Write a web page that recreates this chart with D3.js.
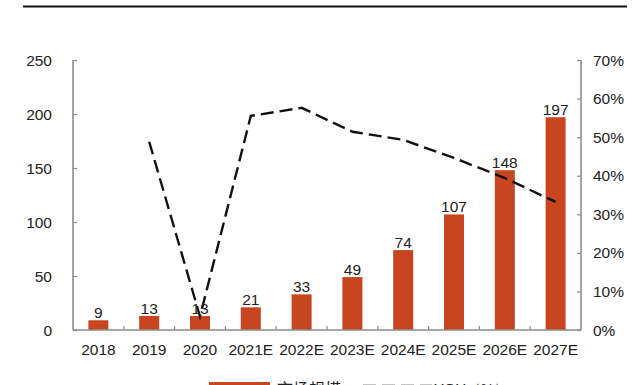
<!DOCTYPE html>
<html><head><meta charset="utf-8">
<script src="https://cdn.jsdelivr.net/npm/d3@7"></script>
<style>body{margin:0;background:#fff}svg{display:block}</style>
</head><body>
<svg id="c" width="640" height="385"></svg>
<script>
const categories = ["2018","2019","2020","2021E","2022E","2023E","2024E","2025E","2026E","2027E"];
const marketSize = [9,13,13,21,33,49,74,107,148,197];
const yoy = [null,48.8,3.5,55.5,57.6,51.4,49.3,44.6,39.4,33.2];
const leftTicks = [0,50,100,150,200,250];
const rightTicks = [0,10,20,30,40,50,60,70];
const legendLabels = ["市场规模","YOY（%）"];

const svg = d3.select("#c");
const font = "'Liberation Sans', Arial, sans-serif";
const fs = 15.5;
const m = {l:73, r:581, t:60, b:330};
const x = d3.scaleBand().domain(categories).range([m.l, m.r]).paddingInner(0).paddingOuter(0);
const yL = d3.scaleLinear().domain([0,250]).range([m.b, m.t]);
const yR = d3.scaleLinear().domain([0,70]).range([m.b, m.t]);
const barColor = "#C8461F";
const axisColor = "#8c8c8c";

// top rule
svg.append("line").attr("x1",23).attr("x2",627).attr("y1",6.5).attr("y2",6.5)
  .attr("stroke","#111").attr("stroke-width",2);

// left axis
const gL = svg.append("g").attr("transform",`translate(${m.l},0)`)
  .call(d3.axisRight(yL).tickValues(leftTicks).tickSize(4).tickFormat(""));
gL.select(".domain").remove();
gL.selectAll("line").attr("stroke",axisColor).attr("stroke-width",1.2);
svg.append("line").attr("x1",m.l).attr("x2",m.l).attr("y1",m.t).attr("y2",m.b).attr("stroke",axisColor).attr("stroke-width",1.6);
svg.append("g").selectAll("text").data(leftTicks).join("text")
  .attr("x",52).attr("y",d=>yL(d)+5.5).attr("text-anchor","end")
  .attr("font-family",font).attr("font-size",fs).attr("fill","#222").text(d=>d);

// right axis
const gR = svg.append("g").attr("transform",`translate(${m.r},0)`)
  .call(d3.axisLeft(yR).tickValues(rightTicks).tickSize(4).tickFormat(""));
gR.select(".domain").remove();
gR.selectAll("line").attr("stroke",axisColor).attr("stroke-width",1.2);
svg.append("line").attr("x1",m.r).attr("x2",m.r).attr("y1",m.t).attr("y2",m.b).attr("stroke",axisColor).attr("stroke-width",1.6);
svg.append("g").selectAll("text").data(rightTicks).join("text")
  .attr("x",593).attr("y",d=>yR(d)+5.5).attr("text-anchor","start")
  .attr("font-family",font).attr("font-size",fs).attr("fill","#222").text(d=>d+"%");

// bars
const bw = 20;
svg.append("g").selectAll("rect").data(marketSize).join("rect")
  .attr("x",(d,i)=>x(categories[i])+x.bandwidth()/2-bw/2)
  .attr("width",bw)
  .attr("y",d=>yL(d)).attr("height",d=>m.b-yL(d))
  .attr("fill",barColor);

// x axis
svg.append("line").attr("x1",m.l).attr("x2",m.r).attr("y1",m.b).attr("y2",m.b).attr("stroke",axisColor).attr("stroke-width",1.6);
svg.append("g").selectAll("line").data(categories.slice(1)).join("line")
  .attr("x1",d=>x(d)).attr("x2",d=>x(d)).attr("y1",m.b).attr("y2",m.b-4)
  .attr("stroke",axisColor).attr("stroke-width",1.2);
svg.append("g").selectAll("text").data(categories).join("text")
  .attr("x",d=>x(d)+x.bandwidth()/2).attr("y",355).attr("text-anchor","middle")
  .attr("font-family",font).attr("font-size",fs).attr("fill","#222").text(d=>d);

// line
const pts = yoy.map((v,i)=>({c:categories[i],v})).filter(p=>p.v!==null);
const line = d3.line().x(p=>x(p.c)+x.bandwidth()/2).y(p=>yR(p.v));
svg.append("path").datum(pts).attr("d",line).attr("fill","none")
  .attr("stroke","#111").attr("stroke-width",2.4).attr("stroke-dasharray","13,6");

// value labels
svg.append("g").selectAll("text").data(marketSize).join("text")
  .attr("x",(d,i)=>x(categories[i])+x.bandwidth()/2).attr("y",d=>yL(d)-2)
  .attr("text-anchor","middle").attr("font-family",font).attr("font-size",fs).attr("fill","#222").text(d=>d);

// legend (cut off at bottom edge, as in the reference)
svg.append("rect").attr("x",209).attr("y",382).attr("width",61).attr("height",12).attr("fill",barColor);
svg.append("text").attr("x",277).attr("y",395).attr("font-family","'Noto Sans CJK SC', sans-serif")
  .attr("font-size",16).attr("fill","#222").text(legendLabels[0]);
svg.append("line").attr("x1",363).attr("x2",432).attr("y1",386).attr("y2",386)
  .attr("stroke","#111").attr("stroke-width",2.4).attr("stroke-dasharray","13,6");
svg.append("text").attr("x",434).attr("y",394).attr("font-family",font)
  .attr("font-size",15).attr("fill","#222").text(legendLabels[1]);
</script>
</body></html>
